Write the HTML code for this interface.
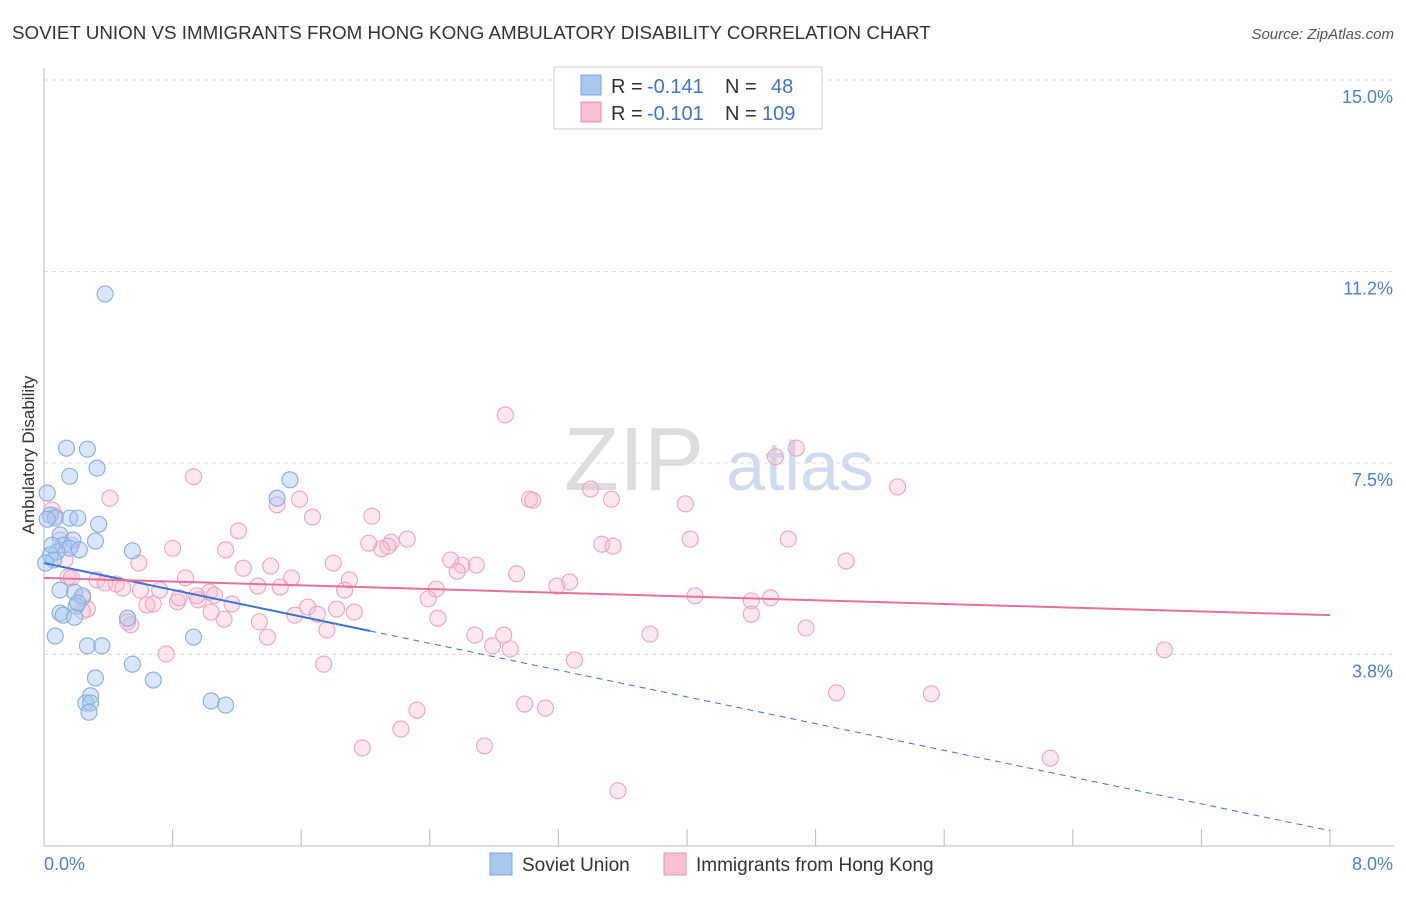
<!DOCTYPE html>
<html><head><meta charset="utf-8"><style>
body{margin:0;background:#fff;font-family:"Liberation Sans",sans-serif;}
svg text{font-family:"Liberation Sans",sans-serif;}
</style></head><body>
<svg id="chart" width="1406" height="892">
<text x="12" y="39" font-size="18.8" fill="#333">SOVIET UNION VS IMMIGRANTS FROM HONG KONG AMBULATORY DISABILITY CORRELATION CHART</text>
<text x="1394" y="39" font-size="15" fill="#555" font-style="italic" text-anchor="end">Source: ZipAtlas.com</text>
<text x="634" y="490" font-size="90" fill="#ddd" font-family="Liberation Serif" text-anchor="middle">ZIP</text>
<text x="800" y="490" font-size="70" fill="#cfdcef" text-anchor="middle">atlas</text>
<g id="grid"></g><g id="axes"></g><g id="marks"></g>
<text transform="translate(34,455) rotate(-90)" font-size="17" fill="#333" text-anchor="middle">Ambulatory Disability</text>
<g>
<rect x="554" y="67" width="268" height="62" fill="#fff" stroke="#ccc"/>
<rect x="581" y="75" width="20" height="20" fill="#a9c8f0" stroke="#7aa6e0"/>
<rect x="581" y="102" width="20" height="20" fill="#f8c0d2" stroke="#e890b0"/>
<text x="611" y="93" font-size="20" fill="#333">R =</text>
<text x="647" y="93" font-size="20" fill="#3b74d0">-0.141</text>
<text x="725" y="93" font-size="20" fill="#333">N =</text>
<text x="771" y="93" font-size="20" fill="#3b74d0">48</text>
<text x="611" y="120" font-size="20" fill="#333">R =</text>
<text x="647" y="120" font-size="20" fill="#3b74d0">-0.101</text>
<text x="725" y="120" font-size="20" fill="#333">N =</text>
<text x="762" y="120" font-size="20" fill="#3b74d0">109</text>
</g>
<g>
<rect x="490" y="853" width="22" height="22" fill="#a9c8f0" stroke="#7aa6e0"/>
<text x="522" y="871" font-size="19" fill="#333">Soviet Union</text>
<rect x="664" y="853" width="22" height="22" fill="#f8c0d2" stroke="#e890b0"/>
<text x="696" y="871" font-size="19" fill="#333">Immigrants from Hong Kong</text>
</g>
</svg>
<script>
const yTicks=[3.75,7.5,11.25,15];
const yTickLabels=["3.8%","7.5%","11.2%","15.0%"];
const xTickLabels=["0.0%","8.0%"];
const blueX=[0.38,0.14,0.27,0.16,0.33,0.02,1.53,1.45,0.04,0.07,0.16,0.21,0.34,0.10,0.18,0.32,0.12,0.16,0.22,0.55,0.08,0.04,0.06,0.10,0.19,0.24,0.20,0.10,0.12,0.19,0.52,0.07,0.93,0.27,0.36,0.55,0.32,0.68,0.29,0.26,0.29,1.04,1.13,0.28,0.02,0.05,0.01,0.21];
const blueY=[10.81,7.79,7.77,7.24,7.40,6.91,7.17,6.81,6.48,6.42,6.42,6.42,6.30,6.09,5.99,5.97,5.89,5.83,5.80,5.78,5.76,5.70,5.60,5.01,4.97,4.90,4.70,4.56,4.52,4.48,4.46,4.11,4.09,3.92,3.92,3.56,3.29,3.25,2.94,2.80,2.80,2.84,2.76,2.62,6.40,5.89,5.54,4.76];
const pinkX=[2.87,4.68,4.55,0.93,0.41,5.31,3.02,3.04,3.40,3.53,3.99,1.45,1.59,1.67,2.04,1.21,0.05,0.07,0.10,0.13,0.17,2.16,2.26,2.14,2.10,2.02,3.47,3.54,4.02,4.63,0.80,1.13,2.53,2.60,2.69,2.57,4.99,0.59,1.24,1.41,1.80,2.94,1.54,1.90,0.88,0.15,0.17,0.33,0.38,0.45,0.49,0.60,0.72,1.03,1.33,1.47,1.87,2.44,3.19,3.27,0.96,1.06,1.17,0.83,0.68,0.64,0.84,0.95,1.64,1.70,1.82,1.93,2.39,0.27,0.24,0.24,1.56,1.12,1.34,1.04,4.05,4.40,4.52,4.40,4.74,0.52,0.54,2.45,1.76,2.68,2.86,1.39,3.77,2.79,2.90,0.76,1.74,3.30,6.97,4.93,5.52,2.99,3.12,2.32,2.22,1.98,2.74,6.26,3.57];
const pinkY=[8.44,7.79,7.62,7.23,6.81,7.03,6.79,6.77,6.99,6.79,6.70,6.68,6.79,6.44,6.46,6.17,6.58,6.46,5.99,5.60,5.89,5.95,6.01,5.87,5.82,5.93,5.91,5.87,6.01,6.01,5.83,5.80,5.60,5.50,5.50,5.38,5.58,5.54,5.44,5.48,5.54,5.33,5.25,5.21,5.25,5.27,5.25,5.21,5.15,5.13,5.05,5.01,5.01,4.97,5.09,5.07,5.01,5.03,5.09,5.17,4.82,4.91,4.74,4.78,4.74,4.72,4.86,4.90,4.68,4.54,4.64,4.58,4.84,4.64,4.86,4.60,4.52,4.44,4.39,4.58,4.90,4.80,4.86,4.54,4.27,4.39,4.33,4.46,4.23,4.13,4.13,4.09,4.15,3.92,3.86,3.76,3.56,3.64,3.84,3.00,2.98,2.78,2.70,2.66,2.29,1.92,1.96,1.72,1.08];
const blueTrend=[5.54,0.30]; // y at x=0 and x=8
const blueSolidEnd=2.03;
const pinkTrend=[5.25,4.52];

const NS="http://www.w3.org/2000/svg";
const X=v=>44+v*160.75, Y=v=>846-v*51.07;
function mk(tag,attrs,parent){const e=document.createElementNS(NS,tag);for(const k in attrs)e.setAttribute(k,attrs[k]);parent.appendChild(e);return e;}
const grid=document.getElementById('grid'),axes=document.getElementById('axes'),marks=document.getElementById('marks');
yTicks.forEach((t,i)=>{
 const l=mk('line',{x1:44,x2:1394,y1:Y(t),y2:Y(t),stroke:'#ddd','stroke-dasharray':'4,4'},grid);
 
 
 const tx=mk('text',{x:1393,y:Y(t)+23,'font-size':18,fill:'#4a80d6','text-anchor':'end'},axes);
 tx.textContent=yTickLabels[i];
 
 
});
const ax=mk('line',{x1:44,x2:1394,y1:846,y2:846,stroke:'#bbb'},axes);


const ay=mk('line',{x1:44,x2:44,y1:68,y2:846,stroke:'#bbb'},axes);


for(let i=0;i<=10;i++){const v=i*0.8;
 const tk=mk('line',{x1:X(v),x2:X(v),y1:829,y2:846,stroke:'#bbb'},axes);
 
 }
[[0,'start',44],[8,'end',1393]].forEach((d,i)=>{
 const t=mk('text',{x:d[2],y:870,'font-size':18,fill:'#4a80d6','text-anchor':d[1]},axes);
 t.textContent=xTickLabels[i];
 
 
});
pinkX.forEach((x,i)=>{
 const c=mk('circle',{cx:X(x),cy:Y(pinkY[i]),r:8,fill:'rgba(246,180,202,0.32)',stroke:'#eea5c0','stroke-width':1.1},marks);
 
 
});
blueX.forEach((x,i)=>{
 const c=mk('circle',{cx:X(x),cy:Y(blueY[i]),r:8,fill:'rgba(168,200,240,0.45)',stroke:'#86aee4','stroke-width':1.1},marks);
 
 
});
const by=x=>blueTrend[0]+(blueTrend[1]-blueTrend[0])*x/8;
const b1=mk('line',{x1:X(0),y1:Y(by(0)),x2:X(blueSolidEnd),y2:Y(by(blueSolidEnd)),stroke:'#3a74d4','stroke-width':2},marks);


const b2=mk('line',{x1:X(blueSolidEnd),y1:Y(by(blueSolidEnd)),x2:X(8),y2:Y(by(8)),stroke:'#3a74d4','stroke-width':1,'stroke-dasharray':'6,5'},marks);


const p1=mk('line',{x1:X(0),y1:Y(pinkTrend[0]),x2:X(8),y2:Y(pinkTrend[1]),stroke:'#e8719a','stroke-width':2},marks);


</script>
</body></html>
